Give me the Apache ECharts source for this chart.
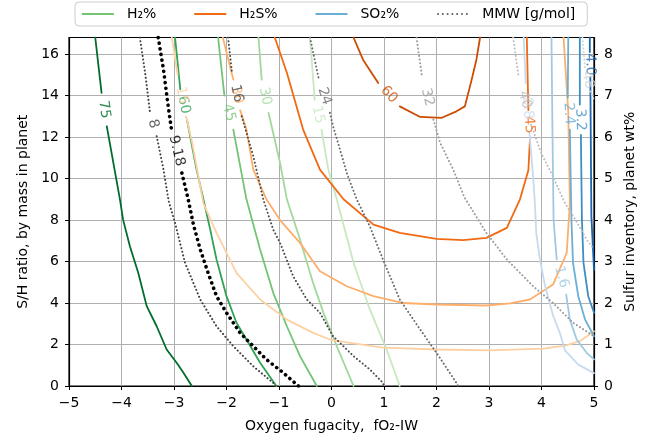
<!DOCTYPE html>
<html><head><meta charset="utf-8">
<script src="https://cdn.jsdelivr.net/npm/echarts@6/dist/echarts.min.js"></script>
<style>html,body{margin:0;padding:0;background:#fff}#c{width:656px;height:438px}</style>
</head><body><div id="c"></div>
<script>
// ---- axes ----
const xTicks = [-5,-4,-3,-2,-1,0,1,2,3,4,5];
const yTicks = [0,2,4,6,8,10,12,14,16];
const y2Ticks = [0,1,2,3,4,5,6,7,8];
const xRange = [-5, 5];
const yRange = [0, 16.8];
const y2Range = [0, 8.4];

// ---- legend ----
const legendNames = ['H₂%', 'H₂S%', 'SO₂%', 'MMW [g/mol]'];

// ---- H2 % contours (fO2, S/H); null = label gap ----
const h2_75 = [[-4.5,16.8],[-4.38,14.13],null,[-4.28,12.52],[-4.03,9.0],[-3.97,8.02],[-3.84,6.74],[-3.68,5.45],[-3.52,3.85],[-3.33,2.88],[-3.14,1.76],[-2.95,1.12],[-2.82,0.64],[-2.66,0]];
const h2_60 = [[-2.98,16.8],[-2.88,14.3],null,[-2.75,12.8],[-2.57,10.43],[-2.44,9.0],[-2.31,7.54],[-2.19,6.1],[-2.0,4.33],[-1.81,3.05],[-1.62,2.24],[-1.36,1.12],[-1.05,0]];
const h2_45 = [[-2.16,16.8],[-2.04,14.0],null,[-1.87,12.36],[-1.62,9.0],[-1.36,6.58],[-1.11,4.49],[-0.85,2.88],[-0.6,1.44],[-0.28,0]];
const h2_30 = [[-1.39,16.8],[-1.33,14.77],null,[-1.2,13.17],[-0.98,10.76],[-0.85,9.0],[-0.6,7.06],[-0.35,4.97],[-0.15,3.5],[0.1,1.92],[0.42,0]];
const h2_15 = [[-0.41,16.8],[-0.32,13.8],null,[-0.19,12.36],[-0.06,10.43],[0.1,9.0],[0.42,5.94],[0.73,3.69],[1.05,1.76],[1.3,0]];

// ---- H2S % contours ----
const h2s_15 = [[-3.04,16.8],[-2.93,15.0],null,[-2.77,13.0],[-2.66,11.8],[-2.44,8.8],[-2.19,7.38],[-1.81,5.45],[-1.36,4.17],[-0.85,3.2],[-0.35,2.56],[-0.03,2.24],[0.35,2.08],[0.98,1.85],[2.0,1.76],[3.02,1.72],[4.03,1.8],[4.45,1.95],[4.73,2.16],[5.0,2.64]];
const h2s_30 = [[-2.07,16.8],[-1.87,14.77],null,[-1.74,13.3],[-1.62,12.36],[-1.49,10.43],[-1.24,9.0],[-0.98,8.0],[-0.6,6.9],[-0.22,5.53],[0.29,4.81],[0.8,4.33],[1.37,4.0],[2.0,3.93],[2.95,3.88],[3.4,3.98],[3.78,4.17],[4.22,4.89],[4.48,6.42],[4.54,8.8],[4.51,13.2],[4.42,16.8]];
const h2s_45 = [[-1.08,16.8],[-0.85,15.1],[-0.54,12.36],[-0.22,10.43],[0.23,9.0],[0.8,7.78],[1.3,7.38],[2.0,7.09],[2.51,7.03],[2.95,7.14],[3.34,7.62],[3.59,9.0],[3.75,10.4],[3.78,11.88],null,[3.75,13.3],[3.72,16.8]];
const h2s_60 = [[0.42,16.8],[0.6,15.73],[0.89,14.61],null,[1.3,13.48],[1.69,12.97],[2.1,12.93],[2.38,13.24],[2.54,13.48],[2.67,14.77],[2.76,15.73],[2.83,16.8]];

// ---- SO2 % contours ----
const so2_08 = [[3.66,16.8],[3.7,14.6],null,[3.77,12.2],[3.84,10.1],[3.87,9.0],[3.9,7.38],[3.97,6.1],[4.07,4.81],[4.22,3.4],[4.35,2.56],[4.45,1.7],[4.7,1.03],[5.0,0.62]];
const so2_16 = [[4.19,16.8],[4.21,12.0],[4.23,8.0],[4.29,6.1],null,[4.47,4.41],[4.54,3.2],[4.67,2.24],[4.86,1.6],[5.0,1.28]];
const so2_24 = [[4.51,16.8],[4.5,13.9],null,[4.54,12.36],[4.57,8.02],[4.6,5.94],[4.7,4.33],[4.83,3.2],[5.0,2.4]];
const so2_32 = [[4.73,16.8],[4.73,13.57],null,[4.75,12.1],[4.77,8.02],[4.8,5.94],[4.89,4.33],[5.0,3.53]];
const so2_40 = [[4.92,16.8],[4.92,16.1],null,[4.93,14.9],[4.95,8.18],[5.0,5.6]];

// ---- MMW contours (g/mol) ----
const mmw_8 = [[-3.65,16.8],[-3.55,15.1],[-3.46,13.24],null,[-3.33,12.04],[-3.2,10.43],[-3.1,8.9],[-2.98,7.86],[-2.79,5.94],[-2.5,4.17],[-2.19,2.88],[-1.87,1.92],[-1.49,0.95],[-1.11,0.15],[-1.07,0]];
const mmw_918 = [[-3.3,16.8],[-3.2,15.25],[-3.11,13.48],[-3.05,12.4],null,[-2.85,10.27],[-2.73,9.0],[-2.63,7.78],[-2.5,6.58],[-2.35,5.45],[-2.19,4.33],[-2.0,3.53],[-1.74,2.56],[-1.49,1.92],[-1.24,1.28],[-0.92,0.64],[-0.63,0]];
const mmw_16 = [[-1.97,16.8],[-1.9,15.2],null,[-1.71,13.0],[-1.49,11.08],[-1.3,9.0],[-1.11,7.54],[-0.98,6.9],[-0.73,5.29],[-0.47,4.17],[-0.22,3.53],[0.03,2.4],[0.42,1.44],[0.73,0.8],[0.98,0.15],[1.0,0]];
const mmw_24 = [[-0.41,16.8],[-0.24,14.77],null,[-0.03,13.17],[0.03,12.52],[0.15,11.5],[0.3,10.2],[0.48,9.0],[0.73,7.7],[0.98,6.1],[1.3,4.17],[1.69,2.72],[2.0,1.6],[2.38,0.15],[2.41,0]];
const mmw_32 = [[1.62,16.8],[1.72,15.0],null,[1.94,12.84],[2.07,11.72],[2.32,10.43],[2.53,9.1],[2.95,7.38],[3.34,6.1],[3.84,4.81],[4.22,4.0],[4.6,3.05],[5.0,2.4]];
const mmw_40 = [[3.46,16.8],[3.56,15.0],null,[3.8,12.6],[4.0,11.2],[4.2,10.2],[4.45,8.8],[4.65,8.0],[4.86,7.06],[5.0,6.58]];
const mmw_48 = [[4.78,16.8],[4.83,15.3],null,[4.93,14.2],[5.0,13.8]];

// contour table: [data, label text, colour, kind]
const contours = [
  [h2_15,'15','#c7e9c0','h2'],[h2_30,'30','#a1d99b','h2'],[h2_45,'45','#74c476','h2'],[h2_60,'60','#31a354','h2'],[h2_75,'75','#006d2c','h2'],
  [h2s_15,'15','#fdd0a2','h2s'],[h2s_30,'30','#fdae6b','h2s'],[h2s_45,'45','#f16913','h2s'],[h2s_60,'60','#cc4c02','h2s'],
  [so2_08,'0.8','#c6dbef','so2'],[so2_16,'1.6','#9ecae1','so2'],[so2_24,'2.4','#6baed6','so2'],[so2_32,'3.2','#3e8ec4','so2'],[so2_40,'4.0','#1c64ad','so2'],
  [mmw_8,'8','#404040','mmw'],[mmw_16,'16','#4a4a4a','mmw'],[mmw_24,'24','#6a6a6a','mmw'],[mmw_32,'32','#9a9a9a','mmw'],[mmw_40,'40','#bdbdbd','mmw'],[mmw_48,'48','#d6d6d6','mmw'],
  [mmw_918,'9.18','#000000','mmw918']
];

const FONT = 'DejaVu Sans';
const chart = echarts.init(document.getElementById('c'), null, {renderer:'canvas'});

function lineStyleFor(kind, color){
  if (kind === 'mmw') return {color, width:2, type:[0.1,3.6], cap:'round'};
  if (kind === 'mmw918') return {color, width:3.6, type:[0.1,5.6], cap:'round'};
  return {color, width:1.8, cap:'round', join:'round'};
}

const contourSeries = contours.map((c,i)=>({
  type:'line', name:'c'+i, xAxisIndex:0, yAxisIndex:0,
  data: c[0].map(p => p ? p : [NaN, NaN]),
  symbol:'none', showSymbol:false, connectNulls:false, silent:true, animation:false,
  lineStyle: lineStyleFor(c[3], c[2]),
  z: c[3].startsWith('mmw') ? 4 : 3,
  clip:true
}));

const legendColors = ['#74c476', '#f16913', '#6baed6', '#666666'];
const legendSeries = legendNames.map((n, i) => ({
  type:'line', name:n, data:[], symbol:'none',
  itemStyle:{color:'rgba(0,0,0,0)', borderWidth:0},
  lineStyle: i === 3 ? {color:legendColors[i], width:1.8, type:[1.6,3.2]} : {color:legendColors[i], width:1.8}
}));
const legendData = legendNames.map((n, i) => ({
  name:n,
  itemStyle:{opacity:0, color:'rgba(0,0,0,0)', borderWidth:0},
  lineStyle: i === 3 ? {color:legendColors[i], width:1.8, type:[1.6,3.2], opacity:1} : {color:legendColors[i], width:1.8, opacity:1}
}));

const minus = v => (v < 0 ? '\u2212' + (-v) : '' + v);

const option = {
  animation:false,
  backgroundColor:'#fff',
  textStyle:{fontFamily:FONT},
  grid:{left:69, right:62, top:37.5, bottom:52, show:true, borderColor:'#000', borderWidth:1.2, backgroundColor:'transparent'},
  legend:{
    data:legendData, top:2, left:75, itemWidth:32, itemHeight:14, itemGap:37,
    textStyle:{fontSize:14, color:'#000', fontFamily:FONT, padding:[0,0,0,8]},
    borderColor:'#cccccc', borderWidth:1, borderRadius:4, padding:[5,12,5,6], backgroundColor:'#fff',
    selectedMode:false
  },
  xAxis:{
    type:'value', min:xRange[0], max:xRange[1], interval:1,
    axisLine:{onZero:false, lineStyle:{color:'#000', width:1.2}},
    axisTick:{length:4, lineStyle:{color:'#000', width:1}},
    axisLabel:{color:'#000', fontSize:14, margin:10, fontFamily:FONT, formatter:minus, customValues:xTicks},
    splitLine:{show:true, lineStyle:{color:'#b0b0b0', width:1}},
    name:'Oxygen fugacity,  fO₂-IW', nameLocation:'middle', nameGap:33,
    nameTextStyle:{fontSize:14, color:'#000', fontFamily:FONT}
  },
  yAxis:[{
    type:'value', min:yRange[0], max:yRange[1], interval:2, position:'left',
    axisLine:{show:true, onZero:false, lineStyle:{color:'#000', width:1.2}},
    axisTick:{show:true, length:4, lineStyle:{color:'#000', width:1}, customValues:yTicks},
    axisLabel:{color:'#000', fontSize:14, margin:10, fontFamily:FONT, customValues:yTicks,
      formatter:v => (yTicks.indexOf(v) >= 0 ? String(v) : '')},
    splitLine:{show:true, lineStyle:{color:'#b0b0b0', width:1}},
    name:'S/H ratio, by mass in planet', nameLocation:'middle', nameGap:38, nameRotate:90,
    nameTextStyle:{fontSize:14, color:'#000', fontFamily:FONT}
  },{
    type:'value', min:y2Range[0], max:y2Range[1], interval:1, position:'right',
    axisLine:{show:true, onZero:false, lineStyle:{color:'#000', width:1.2}},
    axisTick:{show:true, length:4, lineStyle:{color:'#000', width:1}, customValues:y2Ticks},
    axisLabel:{color:'#000', fontSize:14, margin:10, fontFamily:FONT, customValues:y2Ticks,
      formatter:v => (y2Ticks.indexOf(v) >= 0 ? String(v) : '')},
    splitLine:{show:false},
    name:'Sulfur inventory, planet wt%', nameLocation:'middle', nameGap:28, nameRotate:90,
    nameTextStyle:{fontSize:14, color:'#000', fontFamily:FONT}
  }],
  series: contourSeries.concat(legendSeries)
};
chart.setOption(option);

// contour labels: placed in each gap, rotated along the line using the chart's own scales
const labelData = [];
contours.forEach(c => {
  const d = c[0];
  const k = d.indexOf(null);
  if (k < 1) return;
  const a = d[k-1], b = d[k+1];
  const pa = chart.convertToPixel({xAxisIndex:0, yAxisIndex:0}, a);
  const pb = chart.convertToPixel({xAxisIndex:0, yAxisIndex:0}, b);
  let dx = pb[0]-pa[0], dy = pb[1]-pa[1];
  if (dx < 0) { dx = -dx; dy = -dy; }
  const ang = -Math.atan2(dy, dx) * 180 / Math.PI;
  labelData.push({
    value:[(a[0]+b[0])/2, (a[1]+b[1])/2], name:c[1],
    label:{rotate:ang, color:c[2]}
  });
});
const labelSeries = {
  type:'scatter', name:'labels', data:labelData, symbolSize:0, silent:true, animation:false, z:6,
  label:{show:true, position:'inside', formatter:p=>p.name, fontSize:14, fontFamily:FONT, align:'center', verticalAlign:'middle'}
};
chart.setOption({series: contourSeries.concat(legendSeries, [labelSeries])});
</script>
</body></html>
